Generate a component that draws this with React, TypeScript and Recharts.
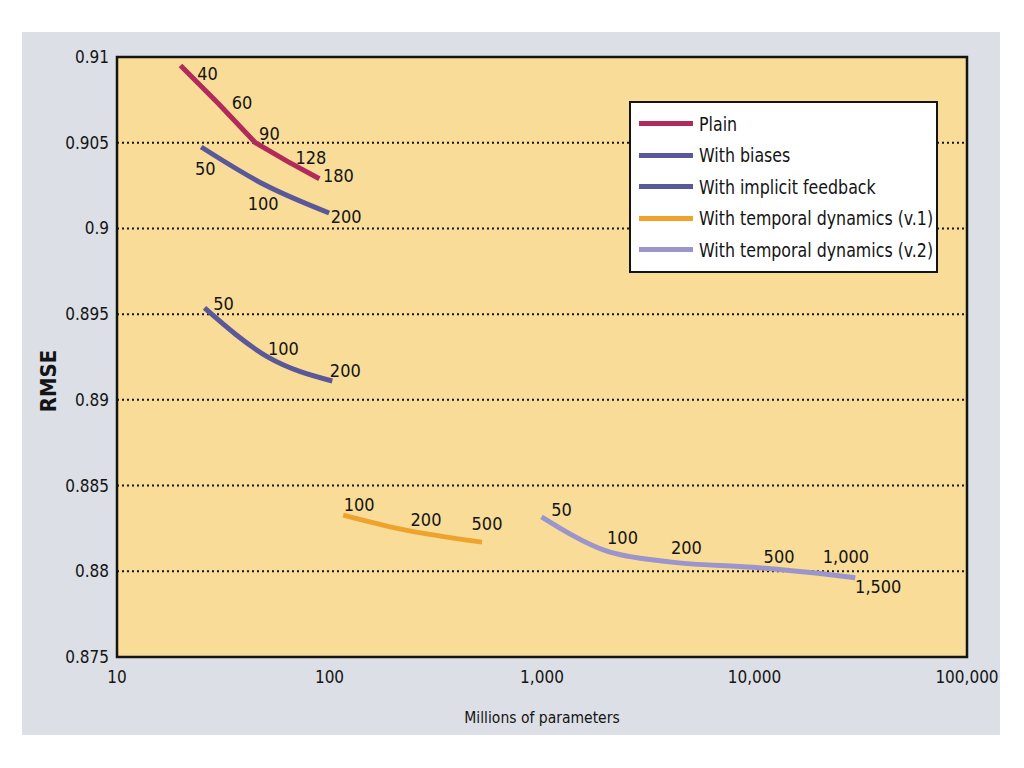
import { CartesianGrid, Label, LabelList, Legend, Line, LineChart, ReferenceArea, XAxis, YAxis } from 'recharts'

const FONT = "'Liberation Sans Narrow', 'DejaVu Sans Condensed', sans-serif"
const INK = '#141414'

// factor counts (point labels), millions of parameters, RMSE
const PLAIN_FACTORS = [40, 60, 90, 128, 180]
const PLAIN_PARAMS = [19.9, 29.9, 44.8, 63.7, 89.6]
const PLAIN_RMSE = [0.9095, 0.9073, 0.905, 0.9039, 0.9029]

const BIASES_FACTORS = [50, 100, 200]
const BIASES_PARAMS = [24.9, 49.8, 99.6]
const BIASES_RMSE = [0.90475, 0.90253, 0.9009]

const IMPLICIT_FACTORS = [50, 100, 200]
const IMPLICIT_PARAMS = [25.8, 51.6, 103.1]
const IMPLICIT_RMSE = [0.89536, 0.89248, 0.8911]

const TEMPORAL1_FACTORS = [100, 200, 500]
const TEMPORAL1_PARAMS = [116, 217, 522]
const TEMPORAL1_RMSE = [0.88328, 0.88246, 0.8817]

const TEMPORAL2_FACTORS = [50, 100, 200, 500, 1000, 1500]
const TEMPORAL2_PARAMS = [995, 1990, 3980, 9950, 19900, 29800]
const TEMPORAL2_RMSE = [0.88318, 0.8812, 0.88055, 0.88023, 0.87988, 0.87962]

const X_TICKS = [10, 100, 1000, 10000, 100000]
const Y_TICKS = [0.875, 0.88, 0.885, 0.89, 0.895, 0.9, 0.905, 0.91]

const rows = (factors: number[], params: number[], rmse: number[]) =>
  factors.map((f, i) => ({ factors: f, params: params[i], rmse: rmse[i] }))

// where each point's factor label sits, relative to the point (px)
const LABEL_SHIFT: Record<string, [number, number][]> = {
  plain: [[27, 8], [24, -1], [14, -9], [23, -4], [19, -3]],
  biases: [[4, 21], [-2, 18], [17, 3]],
  implicit: [[19, -4], [15, -9], [13, -11]],
  temporal1: [[16, -11], [25, -10], [5, -19]],
  temporal2: [[20, -7], [17, -13], [17, -14], [25, -11], [28, -17], [23, 9]],
}

const SERIES = [
  { key: 'plain', name: 'Plain', color: '#b22a5c', type: 'linear', data: rows(PLAIN_FACTORS, PLAIN_PARAMS, PLAIN_RMSE) },
  { key: 'biases', name: 'With biases', color: '#5a5899', type: 'monotone', data: rows(BIASES_FACTORS, BIASES_PARAMS, BIASES_RMSE) },
  { key: 'implicit', name: 'With implicit feedback', color: '#5a5899', type: 'monotone', data: rows(IMPLICIT_FACTORS, IMPLICIT_PARAMS, IMPLICIT_RMSE) },
  { key: 'temporal1', name: 'With temporal dynamics (v.1)', color: '#eea42c', type: 'monotone', data: rows(TEMPORAL1_FACTORS, TEMPORAL1_PARAMS, TEMPORAL1_RMSE) },
  { key: 'temporal2', name: 'With temporal dynamics (v.2)', color: '#9c95cb', type: 'monotone', data: rows(TEMPORAL2_FACTORS, TEMPORAL2_PARAMS, TEMPORAL2_RMSE) },
] as const

function LegendBox({ payload }: { payload?: { value: string; color: string }[] }) {
  return (
    <div
      style={{
        background: '#fff',
        border: `2px solid ${INK}`,
        padding: '5px 0 5px 8px',
        fontFamily: FONT,
        fontSize: 20,
        color: INK,
        whiteSpace: 'nowrap',
      }}
    >
      {(payload ?? []).map((p) => (
        <div key={p.value} style={{ display: 'flex', alignItems: 'center', height: 31.5 }}>
          <span style={{ width: 54, height: 5, background: p.color, marginRight: 6, flex: 'none' }} />
          <span style={{ display: 'inline-block', transform: 'scaleX(0.88)', transformOrigin: 'left center' }}>
            {p.value}
          </span>
        </div>
      ))}
    </div>
  )
}

export default function App() {
  return (
    <div style={{ paddingTop: 24, paddingLeft: 14 }}>
      <div style={{ width: 978, height: 703, background: '#dcdfe6' }}>
        <LineChart width={978} height={703} margin={{ top: 25, right: 33, bottom: 48, left: 5 }}>
          <CartesianGrid
            vertical={false}
            stroke={INK}
            strokeWidth={2}
            strokeDasharray="2 3"
            fill="#f8dc97"
            fillOpacity={1}
          />
          <XAxis
            type="number"
            dataKey="params"
            scale="log"
            domain={[10, 100000]}
            ticks={X_TICKS}
            allowDataOverflow
            height={30}
            axisLine={false}
            tickLine={false}
            tickMargin={8}
            tick={{ fill: INK, fontSize: 17, fontFamily: FONT }}
            tickFormatter={(v: number) => v.toLocaleString('en-US')}
          >
            <Label
              value="Millions of parameters"
              position="bottom"
              offset={25}
              style={{ fill: INK, fontSize: 15.5, fontFamily: FONT }}
            />
          </XAxis>
          <YAxis
            type="number"
            dataKey="rmse"
            domain={[0.875, 0.91]}
            ticks={Y_TICKS}
            allowDataOverflow
            width={90}
            axisLine={false}
            tickLine={false}
            tickMargin={2}
            tick={{ fill: INK, fontSize: 17, fontFamily: FONT }}
            tickFormatter={(v: number) => String(+v.toFixed(3))}
          >
            <Label
              content={({ viewBox }: any) => (
                <text
                  x={viewBox.x + 21}
                  y={viewBox.y + viewBox.height / 2 + 24}
                  transform={`rotate(-90 ${viewBox.x + 21} ${viewBox.y + viewBox.height / 2 + 24})`}
                  textAnchor="middle"
                  dominantBaseline="central"
                  fill={INK}
                  fontSize={22}
                  fontWeight={600}
                  fontFamily={FONT}
                >
                  RMSE
                </text>
              )}
            />
          </YAxis>
          <ReferenceArea
            x1={10}
            x2={100000}
            y1={0.875}
            y2={0.91}
            fill="none"
            stroke={INK}
            strokeWidth={2.5}
            ifOverflow="visible"
          />
          {SERIES.map((s) => (
            <Line
              key={s.key}
              data={s.data}
              dataKey="rmse"
              name={s.name}
              type={s.type}
              stroke={s.color}
              strokeWidth={5}
              dot={false}
              activeDot={false}
              isAnimationActive={false}
            >
              <LabelList
                dataKey="factors"
                content={({ x, y, index, value }: any) => {
                  const [dx, dy] = LABEL_SHIFT[s.key][index] ?? [18, -10]
                  return (
                    <text
                      x={x + dx}
                      y={y + dy}
                      textAnchor="middle"
                      dominantBaseline="central"
                      fill={INK}
                      fontSize={18}
                      fontFamily={FONT}
                    >
                      {Number(value).toLocaleString('en-US')}
                    </text>
                  )
                }}
              />
            </Line>
          ))}
          <Legend
            layout="vertical"
            align="center"
            verticalAlign="middle"
            wrapperStyle={{ left: 607, top: 69, width: 309 }}
            content={<LegendBox />}
          />
        </LineChart>
      </div>
    </div>
  )
}
